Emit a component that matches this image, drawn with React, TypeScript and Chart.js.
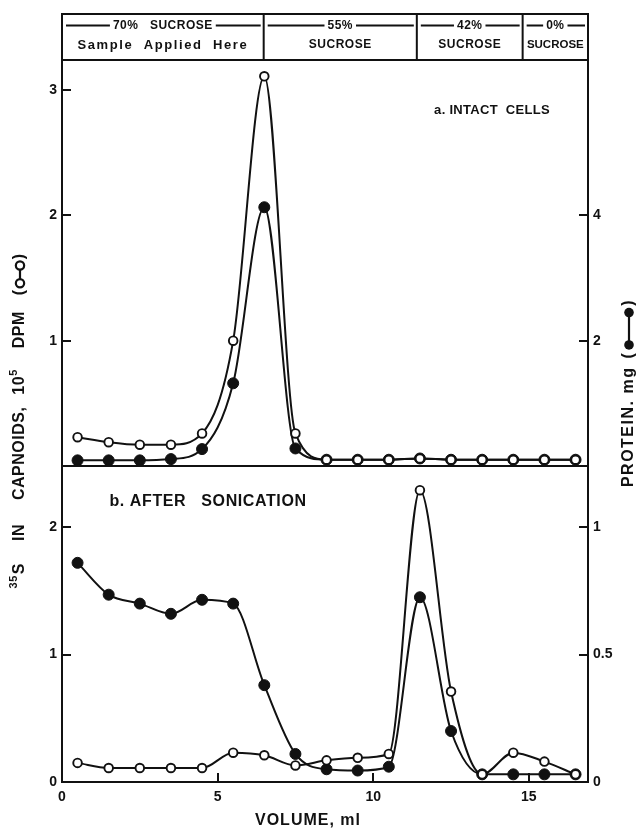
import React, { useEffect, useRef } from "react";
import { Chart, registerables } from "chart.js";

Chart.register(...registerables);

// ---- data ----
const VOLUME_ML = [0.5, 1.5, 2.5, 3.5, 4.5, 5.5, 6.5, 7.5, 8.5, 9.5, 10.5, 11.5, 12.5, 13.5, 14.5, 15.5, 16.5];

// a. intact cells
const TOP_DPM = [0.23, 0.19, 0.17, 0.17, 0.26, 1.0, 3.11, 0.26, 0.05, 0.05, 0.05, 0.06, 0.05, 0.05, 0.05, 0.05, 0.05];
const TOP_PROTEIN = [0.09, 0.09, 0.09, 0.11, 0.27, 1.32, 4.13, 0.28, 0.1, 0.1, 0.1, 0.12, 0.1, 0.1, 0.1, 0.1, 0.1];

// b. after sonication
const BOT_DPM = [0.15, 0.11, 0.11, 0.11, 0.11, 0.23, 0.21, 0.13, 0.17, 0.19, 0.22, 2.29, 0.71, 0.06, 0.23, 0.16, 0.06];
const BOT_PROTEIN = [0.86, 0.735, 0.7, 0.66, 0.715, 0.7, 0.38, 0.11, 0.05, 0.045, 0.06, 0.725, 0.2, 0.03, 0.03, 0.03, 0.03];

// axes
const X_RANGE = [0, 16.9];
const X_TICKS = [0, 5, 10, 15];
const TOP_DPM_RANGE = [0, 3.24];
const TOP_DPM_TICKS = [1, 2, 3];
const TOP_PROTEIN_RANGE = [0, 6.48];
const TOP_PROTEIN_TICKS = [2, 4];
const BOT_DPM_RANGE = [0, 2.48];
const BOT_DPM_TICKS = [0, 1, 2];
const BOT_PROTEIN_RANGE = [0, 1.24];
const BOT_PROTEIN_TICKS = [0, 0.5, 1];

// sucrose gradient header (boundaries in ml)
const GRADIENT_BOUNDS_ML = [6.48, 11.4, 14.8];
const GRADIENT_LINE1 = ["70%   SUCROSE", "55%", "42%", "0%"];
const GRADIENT_LINE2 = ["Sample  Applied  Here", "SUCROSE", "SUCROSE", "SUCROSE"];

const PANEL_A_LABEL = "a. INTACT  CELLS";
const PANEL_B_LABEL = "b. AFTER   SONICATION";
const X_TITLE = "VOLUME, ml";

const FONT = "'Liberation Sans', Arial, sans-serif";
const INK = "#111";

const setTicks = (vals: number[]) => (axis: any) => {
  axis.ticks = vals.map((v) => ({ value: v }));
};

type Part = { text?: string; sup?: string; symbol?: "open" | "filled"; gapBefore?: number };

function drawRotatedRich(
  ctx: CanvasRenderingContext2D,
  cx: number,
  cy: number,
  parts: Part[],
  size: number,
  symW: number,
  spacing: number
) {
  ctx.save();
  ctx.translate(cx, cy);
  ctx.rotate(-Math.PI / 2);
  const mainFont = `bold ${size}px ${FONT}`;
  const supFont = `bold ${Math.round(size * 0.68)}px ${FONT}`;
  (ctx as any).letterSpacing = `${spacing}px`;
  const widthOf = (p: Part) => {
    let w = p.gapBefore || 0;
    if (p.text) {
      ctx.font = mainFont;
      w += ctx.measureText(p.text).width;
    }
    if (p.sup) {
      ctx.font = supFont;
      w += ctx.measureText(p.sup).width + 1;
    }
    if (p.symbol) w += symW;
    return w;
  };
  const total = parts.reduce((a, p) => a + widthOf(p), 0);
  let x = -total / 2;
  ctx.fillStyle = INK;
  ctx.strokeStyle = INK;
  ctx.textBaseline = "middle";
  ctx.textAlign = "left";
  for (const p of parts) {
    x += p.gapBefore || 0;
    if (p.sup) {
      ctx.font = supFont;
      ctx.fillText(p.sup, x, -size * 0.4);
      x += ctx.measureText(p.sup).width + 1;
    }
    if (p.text) {
      ctx.font = mainFont;
      ctx.fillText(p.text, x, 0);
      x += ctx.measureText(p.text).width;
    }
    if (p.symbol) {
      const r = p.symbol === "filled" ? size * 0.3 : size * 0.26;
      const a = x + r + 2;
      const b = x + symW - r - 2;
      ctx.lineWidth = 2.2;
      ctx.beginPath();
      ctx.moveTo(a, 0);
      ctx.lineTo(b, 0);
      ctx.stroke();
      for (const c of [a, b]) {
        ctx.beginPath();
        ctx.arc(c, 0, r, 0, Math.PI * 2);
        if (p.symbol === "filled") {
          ctx.fill();
        } else {
          ctx.fillStyle = "#fff";
          ctx.fill();
          ctx.fillStyle = INK;
          ctx.stroke();
        }
      }
      x += symW;
    }
  }
  ctx.restore();
}

const decorPlugin = {
  id: "decor",
  beforeDatasetsDraw(chart: any) {
    const { ctx, scales } = chart;
    const x = scales.x;
    const yTL = scales.yTL;
    const yBL = scales.yBL;
    const yTR = scales.yTR;
    const yBR = scales.yBR;
    ctx.save();
    ctx.strokeStyle = INK;
    ctx.lineWidth = 2;
    // panel frames
    ctx.strokeRect(x.left, yTL.top, x.right - x.left, yTL.bottom - yTL.top);
    ctx.strokeRect(x.left, yBL.top, x.right - x.left, yBL.bottom - yBL.top);
    // inward tick marks
    const tl = 9;
    ctx.beginPath();
    for (const v of TOP_DPM_TICKS) {
      const p = Math.round(yTL.getPixelForValue(v));
      ctx.moveTo(x.left, p);
      ctx.lineTo(x.left + tl, p);
    }
    for (const v of BOT_DPM_TICKS) {
      const p = Math.round(yBL.getPixelForValue(v));
      ctx.moveTo(x.left, p);
      ctx.lineTo(x.left + tl, p);
    }
    for (const v of TOP_PROTEIN_TICKS) {
      const p = Math.round(yTR.getPixelForValue(v));
      ctx.moveTo(x.right, p);
      ctx.lineTo(x.right - tl, p);
    }
    for (const v of BOT_PROTEIN_TICKS) {
      const p = Math.round(yBR.getPixelForValue(v));
      ctx.moveTo(x.right, p);
      ctx.lineTo(x.right - tl, p);
    }
    for (const v of X_TICKS) {
      const p = Math.round(x.getPixelForValue(v));
      ctx.moveTo(p, yBL.bottom);
      ctx.lineTo(p, yBL.bottom - tl);
    }
    ctx.stroke();
    ctx.restore();
  },
  afterDraw(chart: any) {
    const { ctx, scales } = chart;
    const x = scales.x;
    const yTL = scales.yTL;
    ctx.save();
    ctx.strokeStyle = INK;
    ctx.fillStyle = INK;
    ctx.lineWidth = 2;

    // header box
    const hTop = 14;
    const hBot = yTL.top;
    ctx.strokeRect(x.left, hTop, x.right - x.left, hBot - hTop);
    const edges = [x.left, ...GRADIENT_BOUNDS_ML.map((v) => x.getPixelForValue(v)), x.right];
    ctx.beginPath();
    for (let i = 1; i < edges.length - 1; i++) {
      ctx.moveTo(edges[i], hTop);
      ctx.lineTo(edges[i], hBot);
    }
    ctx.stroke();
    ctx.textBaseline = "middle";
    ctx.textAlign = "center";
    for (let i = 0; i < GRADIENT_LINE1.length; i++) {
      const l = edges[i];
      const r = edges[i + 1];
      const c = (l + r) / 2;
      ctx.font = `bold 12px ${FONT}`;
      (ctx as any).letterSpacing = "0.5px";
      const w = ctx.measureText(GRADIENT_LINE1[i]).width;
      ctx.fillText(GRADIENT_LINE1[i], c, 26);
      ctx.lineWidth = 1.8;
      ctx.beginPath();
      ctx.moveTo(l + 4, 25.5);
      ctx.lineTo(c - w / 2 - 3, 25.5);
      ctx.moveTo(c + w / 2 + 3, 25.5);
      ctx.lineTo(r - 3, 25.5);
      ctx.stroke();
      const t2 = GRADIENT_LINE2[i];
      const isLong = t2.length > 10;
      let fs = isLong ? 13 : 12;
      (ctx as any).letterSpacing = isLong ? "1.6px" : "0.5px";
      ctx.font = `bold ${fs}px ${FONT}`;
      while (ctx.measureText(t2).width > r - l - 3 && fs > 7) {
        fs -= 0.5;
        (ctx as any).letterSpacing = "0px";
        ctx.font = `bold ${fs}px ${FONT}`;
      }
      ctx.fillText(t2, c, 45);
    }
    (ctx as any).letterSpacing = "0px";

    // panel labels
    ctx.textAlign = "center";
    ctx.font = `bold 13px ${FONT}`;
    (ctx as any).letterSpacing = "0.3px";
    ctx.fillText(PANEL_A_LABEL, 492, 110);
    ctx.font = `bold 16px ${FONT}`;
    (ctx as any).letterSpacing = "0.6px";
    ctx.fillText(PANEL_B_LABEL, 208, 502);

    // x title
    ctx.font = `bold 16px ${FONT}`;
    (ctx as any).letterSpacing = "1px";
    ctx.fillText(X_TITLE, 308, 821);
    (ctx as any).letterSpacing = "0px";
    ctx.restore();

    // y titles
    drawRotatedRich(
      ctx,
      20,
      421,
      [
        { sup: "35", text: "S" },
        { text: "IN", gapBefore: 22 },
        { text: "CAPNOIDS,", gapBefore: 24 },
        { text: "10", gapBefore: 12 },
        { sup: "5" },
        { text: "DPM", gapBefore: 20 },
        { text: "(", gapBefore: 16 },
        { symbol: "open" },
        { text: ")" },
      ],
      16,
      30,
      0.5
    );
    drawRotatedRich(
      ctx,
      629,
      393,
      [
        { text: "PROTEIN. mg" },
        { text: "(", gapBefore: 8 },
        { symbol: "filled" },
        { text: ")" },
      ],
      16,
      46,
      1.5
    );
  },
};

const tickFont = { family: FONT, size: 14, weight: "bold" as const };

function yAxis(
  position: "left" | "right",
  stack: string,
  weight: number,
  stackWeight: number,
  range: number[],
  ticks: number[]
) {
  return {
    type: "linear" as const,
    position,
    stack,
    stackWeight,
    weight,
    min: range[0],
    max: range[1],
    afterBuildTicks: setTicks(ticks),
    afterFit: (s: any) => {
      s.width = position === "left" ? 62 : 49;
    },
    grid: { display: false, drawTicks: false },
    border: { display: false },
    ticks: { padding: 5, color: INK, font: tickFont, callback: (v: any) => String(v) },
  };
}

function line(data: number[], yAxisID: string, filled: boolean) {
  return {
    data: VOLUME_ML.map((v, i) => ({ x: v, y: data[i] })),
    yAxisID,
    xAxisID: "x",
    borderColor: INK,
    borderWidth: 2,
    cubicInterpolationMode: "monotone" as const,
    pointRadius: filled ? 5.5 : 4.3,
    pointBorderWidth: filled ? 1 : 1.9,
    pointBackgroundColor: filled ? INK : "#fff",
    pointBorderColor: INK,
    fill: false,
  };
}

export default function App() {
  const ref = useRef<HTMLCanvasElement | null>(null);
  useEffect(() => {
    document.body.style.margin = "0";
    const canvas = ref.current;
    if (!canvas) return;
    const chart = new Chart(canvas, {
      type: "line",
      data: {
        datasets: [
          line(TOP_DPM, "yTL", false),
          line(BOT_DPM, "yBL", false),
          line(TOP_PROTEIN, "yTR", true),
          line(BOT_PROTEIN, "yBR", true),
        ] as any,
      },
      options: {
        animation: false,
        responsive: false,
        devicePixelRatio: 1,
        parsing: false as any,
        layout: { padding: { top: 60, left: 0, right: 0, bottom: 0 } },
        plugins: { legend: { display: false }, tooltip: { enabled: false }, title: { display: false } },
        scales: {
          x: {
            type: "linear",
            position: "bottom",
            min: X_RANGE[0],
            max: X_RANGE[1],
            afterBuildTicks: setTicks(X_TICKS),
            afterFit: (s: any) => {
              s.height = 48;
            },
            grid: { display: false, drawTicks: false },
            border: { display: false },
            ticks: { padding: 7, color: INK, font: tickFont, maxRotation: 0, callback: (v: any) => String(v) },
          },
          yTL: yAxis("left", "L", 1, 406, TOP_DPM_RANGE, TOP_DPM_TICKS),
          yBL: yAxis("left", "L", 0, 316, BOT_DPM_RANGE, BOT_DPM_TICKS),
          yTR: yAxis("right", "R", 0, 406, TOP_PROTEIN_RANGE, TOP_PROTEIN_TICKS),
          yBR: yAxis("right", "R", 1, 316, BOT_PROTEIN_RANGE, BOT_PROTEIN_TICKS),
        } as any,
      },
      plugins: [decorPlugin],
    });
    return () => chart.destroy();
  }, []);
  return (
    <div style={{ width: 637, height: 830, background: "#fff" }}>
      <canvas ref={ref} width={637} height={830} style={{ display: "block" }} />
    </div>
  );
}
